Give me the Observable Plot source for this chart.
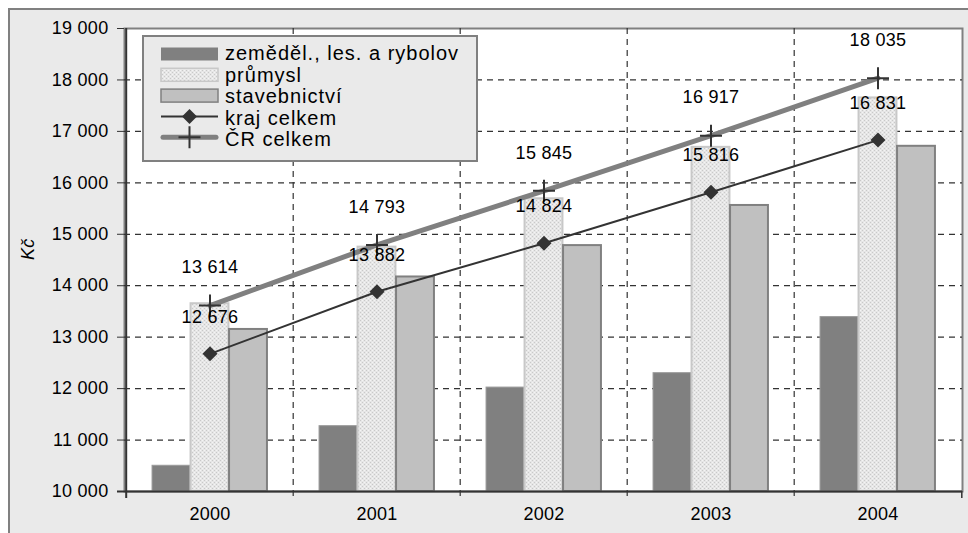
<!DOCTYPE html>
<html>
<head>
<meta charset="utf-8">
<script src="https://cdn.jsdelivr.net/npm/d3@7"></script>
<script src="https://cdn.jsdelivr.net/npm/@observablehq/plot@0.6"></script>
<style>
  html, body { margin: 0; padding: 0; background: white; }
  #chart svg { display: block; }
</style>
</head>
<body>
<div id="chart"></div>
<script>
// ---- data ----
const years = ["2000", "2001", "2002", "2003", "2004"];
const zemedel = [10500, 11270, 12020, 12300, 13390];
const prumysl = [13650, 14750, 15690, 16690, 17650];
const stavebnictvi = [13150, 14170, 14780, 15560, 16710];
const krajCelkem = [12676, 13882, 14824, 15816, 16831];
const crCelkem = [13614, 14793, 15845, 16917, 18035];
const yTicks = [10000, 11000, 12000, 13000, 14000, 15000, 16000, 17000, 18000, 19000];
const seriesNames = ["zeměděl., les. a rybolov", "průmysl", "stavebnictví", "kraj celkem", "ČR celkem"];
const yLabel = "Kč";

const rows = years.map((year, i) => ({
  year, zemedel: zemedel[i], prumysl: prumysl[i], stavebnictvi: stavebnictvi[i],
  kraj: krajCelkem[i], cr: crCelkem[i]
}));

const fmt = d3.formatLocale({decimal: ",", thousands: " ", grouping: [3], currency: ["", ""]}).format(",d");

const W = 968, H = 533;
const mL = 124, mR = 6, mT = 28, mB = 42;
const bw = (W - mL - mR) / years.length;
const barW = 38.5;
const inset = (bw - barW) / 2;
const font = "'Liberation Sans', Arial, sans-serif";

const plusSymbol = {
  draw(ctx, size) {
    const r = Math.sqrt(size / Math.PI);
    ctx.moveTo(-r, 0); ctx.lineTo(r, 0);
    ctx.moveTo(0, -r); ctx.lineTo(0, r);
  }
};
const diamondSymbol = {
  draw(ctx, size) {
    const r = Math.sqrt(size / Math.PI);
    ctx.moveTo(0, -r); ctx.lineTo(r, 0); ctx.lineTo(0, r); ctx.lineTo(-r, 0); ctx.closePath();
  }
};

const dash = "6,5";
const fs = 18;
const plot = Plot.plot({
  width: W, height: H,
  marginLeft: mL, marginRight: mR, marginTop: mT, marginBottom: mB,
  style: {fontFamily: font, fontSize: fs + "px", color: "black", background: "transparent"},
  x: {type: "band", domain: years, padding: 0},
  y: {domain: [10000, 19000]},
  marks: [
    Plot.frame({fill: "white", stroke: "#808080", strokeWidth: 2}),
    // horizontal dashed grid
    Plot.ruleY(yTicks.slice(1, -1), {stroke: "#333", strokeWidth: 1.2, strokeDasharray: dash}),
    // vertical dashed grid at category boundaries
    Plot.ruleX(years.slice(1), {dx: -bw / 2, stroke: "#333", strokeWidth: 1.2, strokeDasharray: dash, insetBottom: -7}),
    // bars
    Plot.barY(rows, {x: "year", y1: 10000, y2: "zemedel", insetLeft: inset, insetRight: inset, dx: -barW,
      fill: "#808080", stroke: "#9a9a9a", strokeWidth: 1}),
    Plot.barY(rows, {x: "year", y1: 10000, y2: "prumysl", insetLeft: inset, insetRight: inset,
      fill: "url(#dotpat)", stroke: "#c8c8c8", strokeWidth: 2}),
    Plot.barY(rows, {x: "year", y1: 10000, y2: "stavebnictvi", insetLeft: inset, insetRight: inset, dx: barW,
      fill: "#c0c0c0", stroke: "#808080", strokeWidth: 2}),
    // axes lines
    Plot.ruleX([years[0]], {dx: -bw / 2, stroke: "#333", strokeWidth: 2, insetBottom: -7}),
    Plot.ruleX([years[years.length - 1]], {dx: bw / 2, y1: 10000, y2: 10000, stroke: "#333", strokeWidth: 1.5, insetBottom: -7}),
    Plot.ruleY([10000], {stroke: "#333", strokeWidth: 2, insetLeft: -7}),
    // lines
    Plot.line(rows, {x: "year", y: "kraj", stroke: "#333", strokeWidth: 2}),
    Plot.line(rows, {x: "year", y: "cr", stroke: "#808080", strokeWidth: 5}),
    Plot.dot(rows, {x: "year", y: "kraj", symbol: diamondSymbol, r: 7.5, fill: "#333", stroke: "none"}),
    Plot.dot(rows, {x: "year", y: "cr", symbol: plusSymbol, r: 11, fill: "none", stroke: "#333", strokeWidth: 2}),
    // value labels
    Plot.text(rows, {x: "year", y: "cr", text: d => fmt(d.cr), dy: -38, fontSize: fs, fill: "black"}),
    Plot.text(rows, {x: "year", y: "kraj", text: d => fmt(d.kraj), dy: -37, fontSize: fs, fill: "black"}),
    // axes
    Plot.axisY({ticks: yTicks, tickFormat: fmt, tickSize: 7, tickPadding: 9, fontSize: fs, label: null, stroke: "#333"}),
    Plot.axisX({tickSize: 0, tickPadding: 16, fontSize: fs, label: null}),
    Plot.text([yLabel], {frameAnchor: "left", dx: -96, rotate: -90, fontSize: fs, fontStyle: "italic", fill: "black"})
  ]
});

document.getElementById("chart").appendChild(plot);
const svg = d3.select(plot);
svg.style("letter-spacing", "0.3px");

// pattern for "průmysl"
const defs = svg.insert("defs", ":first-child");
const pat = defs.append("pattern").attr("id", "dotpat").attr("patternUnits", "userSpaceOnUse")
  .attr("width", 4).attr("height", 4);
pat.append("rect").attr("width", 4).attr("height", 4).attr("fill", "#e6e6e6");
pat.append("rect").attr("x", 0).attr("y", 0).attr("width", 1).attr("height", 1).attr("fill", "#c9c9c9");
pat.append("rect").attr("x", 2).attr("y", 2).attr("width", 1).attr("height", 1).attr("fill", "#c9c9c9");
pat.append("rect").attr("x", 2).attr("y", 0).attr("width", 1).attr("height", 1).attr("fill", "#f4f4f4");
pat.append("rect").attr("x", 0).attr("y", 2).attr("width", 1).attr("height", 1).attr("fill", "#f4f4f4");

// outer chart area background
svg.insert("rect", "defs + *").attr("x", 9).attr("y", 9).attr("width", W).attr("height", H)
  .attr("fill", "#eaeaea").attr("stroke", "#808080").attr("stroke-width", 2);

// legend
const lg = svg.append("g").attr("font-family", font).attr("font-size", 20)
  .attr("text-anchor", "start").style("letter-spacing", "1px");
lg.append("rect").attr("x", 143).attr("y", 36).attr("width", 334).attr("height", 125)
  .attr("fill", "#eaeaea").attr("stroke", "#808080").attr("stroke-width", 2);
const sx0 = 161, sx1 = 218, sm = (sx0 + sx1) / 2;
seriesNames.forEach((name, i) => {
  const cy = 54 + i * 20.8;
  const base = 60 + i * 21.5;
  if (i === 0) lg.append("rect").attr("x", sx0).attr("y", cy - 6.5).attr("width", sx1 - sx0).attr("height", 13).attr("fill", "#808080");
  if (i === 1) lg.append("rect").attr("x", sx0).attr("y", cy - 6.5).attr("width", sx1 - sx0).attr("height", 13).attr("fill", "url(#dotpat)").attr("stroke", "#c8c8c8").attr("stroke-width", 1.5);
  if (i === 2) lg.append("rect").attr("x", sx0).attr("y", cy - 6.5).attr("width", sx1 - sx0).attr("height", 13).attr("fill", "#c0c0c0").attr("stroke", "#808080").attr("stroke-width", 1.5);
  if (i === 3) {
    lg.append("line").attr("x1", sx0).attr("x2", sx1).attr("y1", cy).attr("y2", cy).attr("stroke", "#333").attr("stroke-width", 2);
    lg.append("path").attr("d", `M${sm},${cy - 7.5}L${sm + 7.5},${cy}L${sm},${cy + 7.5}L${sm - 7.5},${cy}Z`).attr("fill", "#333");
  }
  if (i === 4) {
    lg.append("line").attr("x1", sx0 + 2).attr("x2", sx1 - 2).attr("y1", cy).attr("y2", cy).attr("stroke", "#808080").attr("stroke-width", 5).attr("stroke-linecap", "round");
    lg.append("path").attr("d", `M${sm - 11},${cy}L${sm + 11},${cy}M${sm},${cy - 11}L${sm},${cy + 11}`).attr("stroke", "#333").attr("stroke-width", 2);
  }
  lg.append("text").attr("x", 225).attr("y", base).attr("fill", "black").text(name);
});
</script>
</body>
</html>
